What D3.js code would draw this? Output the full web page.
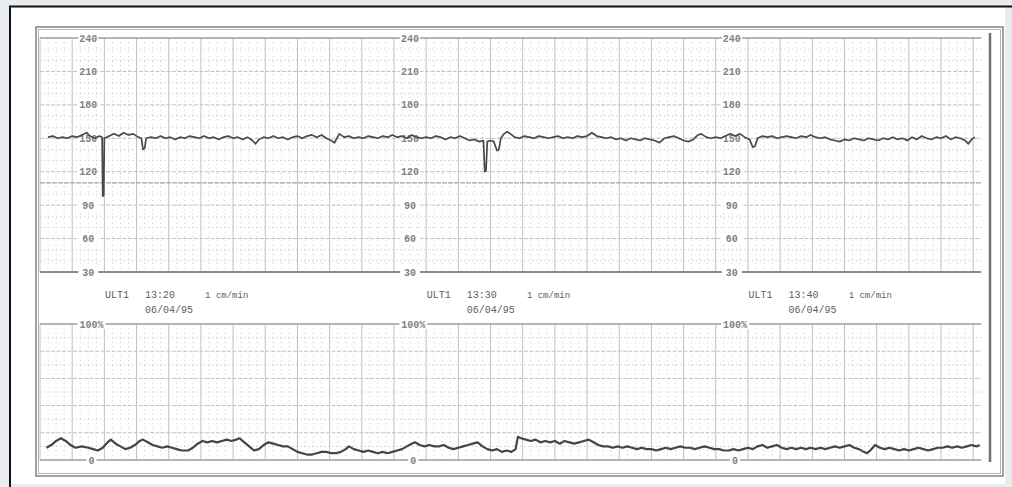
<!DOCTYPE html>
<html><head><meta charset="utf-8">
<script src="https://cdn.jsdelivr.net/npm/d3@7"></script>
<style>html,body{margin:0;padding:0;background:#e8ebef;}svg{display:block;}</style>
</head><body>
<svg id="c" width="1012" height="487"></svg>
<script>
// ---------- data ----------
const sectionStarts = [0, 10, 20];
const timeLabels = ["13:20", "13:30", "13:40"];
const channelLabel = "ULT1";
const speedLabel = "1 cm/min";
const dateLabel = "06/04/95";
const fhrTicks = [240, 210, 180, 150, 120, 90, 60, 30];
const uaTicks = [100, 0];
const uaTickLabels = ["100%", "0"];

const fhrTrace = [
[0.25,151],[0.4,152],[0.55,150],[0.7,151],[0.85,150],[1.0,152],[1.15,151],[1.3,153],[1.45,155],[1.55,152],[1.7,150],[1.85,152],[1.93,151],[1.95,98],[1.98,99],[2.0,150],[2.15,152],[2.3,154],[2.45,152],[2.6,155],[2.75,153],[2.9,154],[3.05,151],[3.15,150],[3.2,140],[3.25,141],[3.3,150],[3.45,151],[3.6,150],[3.75,152],[3.9,150],[4.05,151],[4.2,149],[4.35,151],[4.5,150],[4.65,152],[4.8,151],[4.95,150],[5.1,152],[5.25,150],[5.4,151],[5.55,149],[5.7,151],[5.85,152],[6.0,150],[6.15,151],[6.3,149],[6.45,151],[6.6,148],[6.7,145],[6.8,149],[6.95,151],[7.1,150],[7.25,152],[7.4,150],[7.55,151],[7.7,149],[7.85,151],[8.0,152],[8.15,150],[8.3,152],[8.45,153],[8.6,151],[8.75,153],[8.9,150],[9.05,148],[9.15,146],[9.3,154],[9.45,151],[9.6,152],[9.75,150],[9.9,151],
[10.05,150],[10.2,152],[10.35,151],[10.5,150],[10.65,152],[10.8,151],[10.95,153],[11.1,151],[11.25,152],[11.4,150],[11.55,153],[11.7,151],[11.85,150],[12.0,151],[12.15,150],[12.3,152],[12.45,151],[12.6,149],[12.75,151],[12.9,150],[13.05,152],[13.2,150],[13.35,148],[13.5,149],[13.65,147],[13.78,148],[13.82,120],[13.86,121],[13.9,147],[14.0,148],[14.1,147],[14.2,139],[14.26,140],[14.32,150],[14.42,154],[14.52,156],[14.62,154],[14.75,151],[14.9,150],[15.05,152],[15.2,151],[15.35,150],[15.5,152],[15.65,151],[15.8,150],[15.95,151],[16.1,152],[16.25,150],[16.4,151],[16.55,150],[16.7,152],[16.85,151],[17.0,152],[17.15,155],[17.3,152],[17.45,151],[17.6,150],[17.75,151],[17.9,149],[18.05,150],[18.2,148],[18.35,150],[18.5,149],[18.65,148],[18.8,150],[18.95,149],[19.1,148],[19.25,146],[19.4,150],
[19.55,151],[19.7,152],[19.85,150],[20.0,148],[20.15,147],[20.3,149],[20.45,153],[20.55,154],[20.7,151],[20.85,150],[21.0,151],[21.15,150],[21.3,152],[21.45,154],[21.6,152],[21.75,154],[21.9,151],[22.05,149],[22.15,142],[22.22,143],[22.3,150],[22.45,152],[22.6,151],[22.75,152],[22.9,150],[23.05,151],[23.2,152],[23.35,151],[23.5,150],[23.65,152],[23.8,151],[23.95,153],[24.1,151],[24.25,150],[24.4,151],[24.55,149],[24.7,148],[24.85,147],[25.0,149],[25.15,148],[25.3,150],[25.45,149],[25.6,148],[25.75,150],[25.9,149],[26.05,148],[26.2,150],[26.35,149],[26.5,151],[26.65,149],[26.8,150],[26.95,148],[27.1,151],[27.25,149],[27.4,152],[27.55,150],[27.7,149],[27.85,151],[28.0,150],[28.15,152],[28.3,149],[28.45,151],[28.6,150],[28.75,148],[28.85,145],[28.95,149],[29.05,151]
];

const uaTrace = [
[0.2,9],[0.35,11],[0.5,14],[0.65,16],[0.8,14],[0.95,11],[1.1,9],[1.3,10],[1.5,9],[1.65,8],[1.8,7],[1.95,9],[2.1,13],[2.2,15],[2.35,12],[2.5,10],[2.65,8],[2.8,9],[2.95,11],[3.1,14],[3.2,15],[3.35,13],[3.5,11],[3.65,10],[3.8,9],[3.95,10],[4.1,9],[4.25,8],[4.4,7],[4.6,7],[4.75,9],[4.9,12],[5.05,14],[5.2,13],[5.35,14],[5.5,13],[5.65,14],[5.8,15],[5.95,14],[6.1,15],[6.2,16],[6.35,13],[6.5,10],[6.65,7],[6.8,8],[6.95,11],[7.1,13],[7.25,12],[7.4,11],[7.55,10],[7.7,10],[7.85,8],[8.0,6],[8.15,5],[8.3,4],[8.45,4],[8.6,5],[8.75,6],[8.9,6],[9.05,5],[9.2,5],[9.35,6],[9.5,8],[9.6,10],[9.75,8],[9.9,7],
[10.05,6],[10.2,7],[10.35,6],[10.5,5],[10.65,6],[10.8,5],[10.95,6],[11.1,7],[11.25,8],[11.4,10],[11.55,12],[11.65,13],[11.8,11],[11.95,10],[12.1,11],[12.25,10],[12.4,10],[12.55,11],[12.7,9],[12.85,8],[13.0,9],[13.15,10],[13.3,11],[13.45,12],[13.6,13],[13.75,10],[13.9,8],[14.05,7],[14.2,8],[14.35,6],[14.5,7],[14.65,6],[14.78,8],[14.85,17],[14.95,16],[15.1,15],[15.25,14],[15.4,15],[15.55,13],[15.7,14],[15.85,13],[16.0,14],[16.15,12],[16.3,14],[16.45,13],[16.6,12],[16.75,13],[16.9,14],[17.05,15],[17.2,13],[17.35,11],[17.5,10],[17.65,10],[17.8,9],[17.95,10],[18.1,9],[18.25,10],[18.4,9],[18.55,8],[18.7,9],[18.85,8],[19.0,8],[19.15,7],[19.3,8],[19.45,9],[19.6,8],[19.75,9],[19.9,10],
[20.05,9],[20.2,9],[20.35,8],[20.5,9],[20.65,10],[20.8,9],[20.95,8],[21.1,8],[21.25,7],[21.4,7],[21.55,8],[21.7,7],[21.85,8],[22.0,9],[22.15,8],[22.3,10],[22.45,11],[22.6,9],[22.75,10],[22.9,11],[23.05,9],[23.2,8],[23.35,9],[23.5,8],[23.65,9],[23.8,8],[23.95,9],[24.1,8],[24.25,9],[24.4,8],[24.55,9],[24.7,10],[24.85,9],[25.0,10],[25.15,11],[25.3,9],[25.45,8],[25.6,6],[25.7,5],[25.8,7],[25.95,11],[26.1,9],[26.25,8],[26.4,9],[26.55,8],[26.7,7],[26.85,8],[27.0,7],[27.15,8],[27.3,9],[27.45,8],[27.6,7],[27.75,8],[27.9,9],[28.05,9],[28.2,10],[28.35,9],[28.5,10],[28.65,9],[28.8,10],[28.95,11],[29.1,10],[29.2,11]
];

// ---------- layout ----------
const svg = d3.select("#c");
const W = 1012, H = 487;
const x = d3.scaleLinear().domain([0, 30]).range([40, 40 + 30 * 32.18]);
const yF = d3.scaleLinear().domain([30, 240]).range([272, 38]);
const yU = d3.scaleLinear().domain([0, 100]).range([460, 324]);
const gridEnd = 29.25;

// background paper
svg.append("rect").attr("x", 10).attr("y", 6).attr("width", 995).attr("height", 478).attr("fill", "#fff");
svg.append("line").attr("x1", 9).attr("x2", W).attr("y1", 6.5).attr("y2", 6.5).attr("stroke", "#111").attr("stroke-width", 2);
svg.append("line").attr("x1", 10).attr("x2", 10).attr("y1", 6).attr("y2", H).attr("stroke", "#111").attr("stroke-width", 2);

// strip frame
svg.append("rect").attr("x", 36).attr("y", 27).attr("width", 967).attr("height", 449)
  .attr("fill", "none").attr("stroke", "#8a8a8a").attr("stroke-width", 1.6);
svg.append("rect").attr("x", 38.5).attr("y", 29.5).attr("width", 962).attr("height", 444)
  .attr("fill", "none").attr("stroke", "#b5b5b5").attr("stroke-width", 1);

const grid = svg.append("g");
const majorMinutes = d3.range(0, 30);
const minorMinutes = d3.range(0, 29.01, 0.25).filter(m => m % 1 !== 0);

function panelGrid(y0, y1) {
  grid.selectAll(null).data(minorMinutes).join("line")
    .attr("x1", d => x(d)).attr("x2", d => x(d)).attr("y1", y0).attr("y2", y1)
    .attr("stroke", "#cfcfcf").attr("stroke-width", 1).attr("stroke-dasharray", "1.2,3.3");
  grid.selectAll(null).data(majorMinutes).join("line")
    .attr("x1", d => x(d)).attr("x2", d => x(d)).attr("y1", y0).attr("y2", y1)
    .attr("stroke", "#c0c0c0").attr("stroke-width", 1);
}
panelGrid(yF(240), yF(30));
panelGrid(yU(100), yU(0));

// FHR horizontal lines
const fhrLines = d3.range(40, 240, 10);
grid.selectAll(null).data(fhrLines).join("line")
  .attr("x1", x(0)).attr("x2", x(gridEnd)).attr("y1", d => yF(d)).attr("y2", d => yF(d))
  .attr("stroke", d => d === 110 ? "#a5a5a5" : (d % 30 === 0 ? "#c0c0c0" : "#d2d2d2"))
  .attr("stroke-width", d => d === 110 ? 1.3 : 1)
  .attr("stroke-dasharray", d => d === 110 ? "5,1" : (d % 30 === 0 ? "4,1.5" : "1.5,2.5"));
// UA horizontal lines
const uaLines = d3.range(10, 100, 10);
grid.selectAll(null).data(uaLines).join("line")
  .attr("x1", x(0)).attr("x2", x(gridEnd)).attr("y1", d => yU(d)).attr("y2", d => yU(d))
  .attr("stroke", d => d % 20 === 0 ? "#c2c2c2" : "#d2d2d2")
  .attr("stroke-dasharray", d => d % 20 === 0 ? "4,1.5" : "1.5,2.5");

// boundary lines
[[yF(240), "#9c9c9c", 1.6], [yF(30), "#8c8c8c", 2], [yU(100), "#9c9c9c", 1.6], [yU(0), "#9c9c9c", 1.6]]
  .forEach(([yy, c, w]) => grid.append("line").attr("x1", x(0)).attr("x2", x(gridEnd))
    .attr("y1", yy).attr("y2", yy).attr("stroke", c).attr("stroke-width", w));

// right side bar
svg.append("line").attr("x1", 990).attr("x2", 990).attr("y1", 33).attr("y2", 462)
  .attr("stroke", "#707070").attr("stroke-width", 2.5);

// tick labels
const labelFont = "'Liberation Mono', 'DejaVu Sans Mono', monospace";
sectionStarts.forEach(s => {
  fhrTicks.forEach(t => {
    const g = svg.append("g").attr("transform", `translate(${x(s + 1.5)},${yF(t)})`);
    g.append("rect").attr("x", -10).attr("y", -5).attr("width", 20).attr("height", 10).attr("fill", "#fff");
    g.append("text").attr("text-anchor", "middle").attr("dy", "0.35em")
      .attr("font-family", labelFont).attr("font-size", 10).attr("font-weight", "bold")
      .attr("fill", "#808080").text(t);
  });
  uaTicks.forEach((t, i) => {
    const g = svg.append("g").attr("transform", `translate(${x(s + 1.6)},${yU(t)})`);
    g.append("rect").attr("x", i === 0 ? -14 : -5).attr("y", -5).attr("width", i === 0 ? 28 : 10).attr("height", 10).attr("fill", "#fff");
    g.append("text").attr("text-anchor", "middle").attr("dy", "0.35em")
      .attr("font-family", labelFont).attr("font-size", 10).attr("font-weight", "bold")
      .attr("fill", "#808080").text(uaTickLabels[i]);
  });
});

// annotation texts
sectionStarts.forEach((s, i) => {
  const t = svg.append("g").attr("font-family", labelFont).attr("font-size", 10).attr("fill", "#5e5e5e");
  t.append("text").attr("x", x(s + 2.02)).attr("y", 298).text(channelLabel);
  t.append("text").attr("x", x(s + 3.26)).attr("y", 298).text(timeLabels[i]);
  t.append("text").attr("x", x(s + 5.13)).attr("y", 298).attr("font-size", 9).text(speedLabel);
  t.append("text").attr("x", x(s + 3.26)).attr("y", 313).text(dateLabel);
});

// traces
const fhrLine = d3.line().x(d => x(d[0])).y(d => yF(d[1]));
svg.append("path").datum(fhrTrace).attr("d", fhrLine)
  .attr("fill", "none").attr("stroke", "#4a4a4a").attr("stroke-width", 1.7).attr("stroke-linejoin", "round");
const uaLine = d3.line().x(d => x(d[0])).y(d => yU(d[1]));
svg.append("path").datum(uaTrace).attr("d", uaLine)
  .attr("fill", "none").attr("stroke", "#454545").attr("stroke-width", 2.2).attr("stroke-linejoin", "round");
</script>
</body></html>
